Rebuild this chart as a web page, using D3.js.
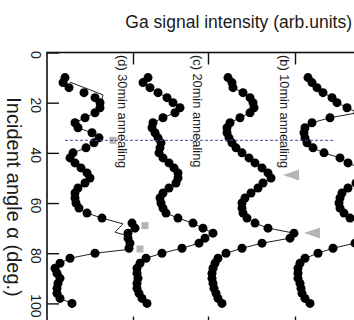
<!DOCTYPE html>
<html>
<head>
<meta charset="utf-8">
<script src="https://cdn.jsdelivr.net/npm/d3@7/dist/d3.min.js"></script>
<style>
  html, body { margin: 0; padding: 0; background: #fff; }
  svg { display: block; }
  text { font-family: "Liberation Sans", Arial, Helvetica, sans-serif; fill: #1a1a1a; }
</style>
</head>
<body>
<svg id="chart" width="354" height="320"></svg>
<script>
// Incident angles (deg.) of the measured points
const angles = [10, 12, 14, 16, 18, 20, 22, 24, 26, 28, 30, 32, 34, 36, 38, 40,
  42, 44, 46, 48, 50, 52, 54, 56, 58, 60, 62, 64, 66, 68, 70, 72, 74, 76, 78, 80,
  82, 84, 86, 88, 90, 92, 94, 96, 98, 100];

// Ga signal intensity (arb. units, curves already offset)
const seriesA = [26.1, 26.5, 27.0, 27.6, 28.5, 29.0, 30.0, 31.1, 28.3, 26.5, 25.8, 25.7,
  25.8, 26.0, 26.6, 27.7, 29.3, 30.1, 31.3, 32.1, 31.9, 30.9, 30.1, 29.5, 29.3, 29.2,
  29.3, 29.7, 30.3, 31.5, 32.8, 34.5, 34.1, 30.8, 28.6, 27.1, 25.8, 25.3, 25.1, 25.1,
  25.1, 25.3, 25.4, 25.5, 25.8, 26.3];
const seriesB = [18.1, 18.5, 18.6, 19.6, 20.3, 20.6, 20.7, 20.3, 19.3, 18.3, 18.0, 18.0,
  18.2, 18.5, 18.9, 19.5, 20.2, 20.8, 21.5, 22.1, 22.4, 21.6, 21.1, 20.4, 19.8, 19.5,
  19.5, 19.6, 20.0, 20.8, 22.1, 24.7, 24.3, 21.5, 19.5, 17.9, 17.1, 16.8, 16.6, 16.5,
  16.5, 16.6, 16.7, 16.9, 17.1, 17.5];
const seriesC = [10.1, 9.6, 10.3, 11.1, 12.0, 12.6, 13.3, 12.8, 11.6, 10.6, 10.5, 10.8,
  11.1, 11.4, 11.3, 11.2, 11.6, 12.2, 12.7, 13.1, 13.1, 12.9, 12.2, 11.6, 11.3, 11.4,
  11.6, 11.9, 13.1, 14.6, 15.6, 16.6, 15.8, 15.2, 13.5, 11.5, 9.9, 9.3, 9.0, 9.0,
  9.1, 9.0, 9.0, 9.2, 9.5, 10.0];
const seriesD = [1.8, 1.6, 2.2, 3.7, 4.8, 5.3, 5.3, 4.8, 3.8, 2.8, 3.1, 4.5,
  5.2, 4.7, 3.9, 2.6, 2.3, 2.8, 3.4, 4.0, 4.3, 3.8, 3.1, 2.8, 2.8, 2.9,
  3.2, 4.0, 5.5, 8.5, 8.8, 8.1, 8.1, 8.3, 8.2, 4.8, 2.3, 1.3, 0.8, 1.0,
  1.3, 1.1, 1.0, 1.0, 1.3, 2.5];

// Fitted curve for the 30 min sample
const fitAnglesD = [11.8, 16.9, 21.7, 24, 26, 28, 30, 32, 34, 36, 38, 40, 42, 44, 46, 48,
  50, 52, 54, 56, 58, 60, 62, 64, 66, 68.3, 71.6, 72.8, 76, 78.5, 80, 82, 84, 86, 88,
  90, 92, 94, 96, 98, 100];
const fitD = [2.3, 5.6, 5.3, 4.8, 3.8, 2.8, 3.1, 4.5, 5.2, 4.7, 3.9, 2.6, 2.3, 2.8, 3.4, 4.0,
  4.3, 3.8, 3.1, 2.8, 2.8, 2.9, 3.2, 4.0, 5.5, 7.6, 6.8, 7.8, 8.2, 8.1, 4.8, 2.3, 1.3, 0.8, 1.0,
  1.3, 1.1, 1.0, 1.0, 1.3, 2.5];

// Axis ticks and curve baselines
const angleTicks = [0, 20, 40, 60, 80, 100];
const baselineTicks = [8.6, 16.1, 24.8];
const panelLabels = ["(d) 30min annealing", "(c) 20min annealing", "(b) 10min annealing"];

// Reference marks
const criticalAngle = 35;
const criticalSpan = [1.8, 28.8];
const squareAngles = [35, 69, 78.3];
const squareValues = [6.6, 9.8, 9.3];
const triangleAngles = [48.8, 71.9];
const triangleValues = [24.4, 26.5];

const svg = d3.select("#chart");

// Angle runs downward, intensity runs rightward
const y = d3.scaleLinear().domain([0, 110]).range([52.5, 328.5]);
const x = d3.scaleLinear().domain([0, 33]).range([47, 377]);

// Title
svg.append("text")
  .attr("x", 352).attr("y", 28)
  .attr("text-anchor", "end")
  .attr("font-size", 17.5)
  .text("Ga signal intensity (arb.units)");

// Axis title (rotated)
svg.append("text")
  .attr("transform", `translate(13.5,197) rotate(90)`)
  .attr("text-anchor", "middle")
  .attr("dominant-baseline", "central")
  .attr("font-size", 20)
  .text("Incident angle α (deg.)");

// Frame
svg.append("rect")
  .attr("x", x(0)).attr("y", y(0))
  .attr("width", x(33) - x(0)).attr("height", y(110) - y(0))
  .attr("fill", "none").attr("stroke", "#111").attr("stroke-width", 1.6);

// Angle axis
const yAxis = svg.append("g")
  .attr("transform", `translate(${x(0)},0)`)
  .call(d3.axisLeft(y).tickValues(angleTicks).tickSizeInner(-12).tickSizeOuter(0).tickPadding(0));
yAxis.select(".domain").remove();
yAxis.selectAll(".tick line").attr("stroke", "#111").attr("stroke-width", 1.4);
yAxis.selectAll(".tick text")
  .attr("x", null).attr("dy", null)
  .attr("transform", "translate(-11,2) rotate(90)")
  .attr("text-anchor", "middle")
  .attr("dominant-baseline", "central")
  .attr("font-size", 14)
  .attr("font-family", null)
  .attr("fill", "#1a1a1a");

// Baseline ticks on top and bottom edges
[[y(0), d3.axisTop], [y(110), d3.axisBottom]].forEach(([pos, ax]) => {
  const g = svg.append("g")
    .attr("transform", `translate(0,${pos})`)
    .call(ax(x).tickValues(baselineTicks).tickSizeInner(-12).tickSizeOuter(0).tickFormat(""));
  g.select(".domain").remove();
  g.selectAll(".tick line").attr("stroke", "#111").attr("stroke-width", 1.4);
});

// Panel labels
svg.selectAll("text.panel")
  .data(panelLabels)
  .join("text")
  .attr("class", "panel")
  .attr("transform", (d, i) => `translate(${x(baselineTicks[i]) - 11},55) rotate(90)`)
  .attr("text-anchor", "start")
  .attr("dominant-baseline", "central")
  .attr("font-size", 12.8)
  .text(d => d);

// Curves
const line = d3.line().x(d => x(d[1])).y(d => y(d[0]));
const curves = [seriesA, seriesB, seriesC, seriesD];

svg.append("path")
  .datum(fitAnglesD.map((a, i) => [a, fitD[i]]))
  .attr("d", line)
  .attr("fill", "none").attr("stroke", "#222").attr("stroke-width", 1);

curves.slice(0, 3).forEach(s => {
  svg.append("path")
    .datum(angles.map((a, i) => [a, s[i]]))
    .attr("d", line)
    .attr("fill", "none").attr("stroke", "#222").attr("stroke-width", 1);
});

curves.forEach(s => {
  svg.append("g")
    .selectAll("circle")
    .data(angles.map((a, i) => [a, s[i]]))
    .join("circle")
    .attr("cx", d => x(d[1]))
    .attr("cy", d => y(d[0]))
    .attr("r", 4.5)
    .attr("fill", "#000");
});

// Gray markers
svg.append("g")
  .selectAll("rect")
  .data(squareAngles.map((a, i) => [a, squareValues[i]]))
  .join("rect")
  .attr("x", d => x(d[1]) - 3.5)
  .attr("y", d => y(d[0]) - 3.5)
  .attr("width", 7).attr("height", 7)
  .attr("fill", "#b5b5b5");

svg.append("g")
  .selectAll("path")
  .data(triangleAngles.map((a, i) => [a, triangleValues[i]]))
  .join("path")
  .attr("transform", d => `translate(${x(d[1])},${y(d[0])})`)
  .attr("d", "M-8,0L8,-5.5L8,5.5Z")
  .attr("fill", "#b5b5b5");

// Critical angle line
svg.append("line")
  .attr("x1", x(criticalSpan[0])).attr("x2", x(criticalSpan[1]))
  .attr("y1", y(criticalAngle)).attr("y2", y(criticalAngle))
  .attr("stroke", "#4a4a9c").attr("stroke-width", 1)
  .attr("stroke-dasharray", "3,2");
</script>
</body>
</html>
